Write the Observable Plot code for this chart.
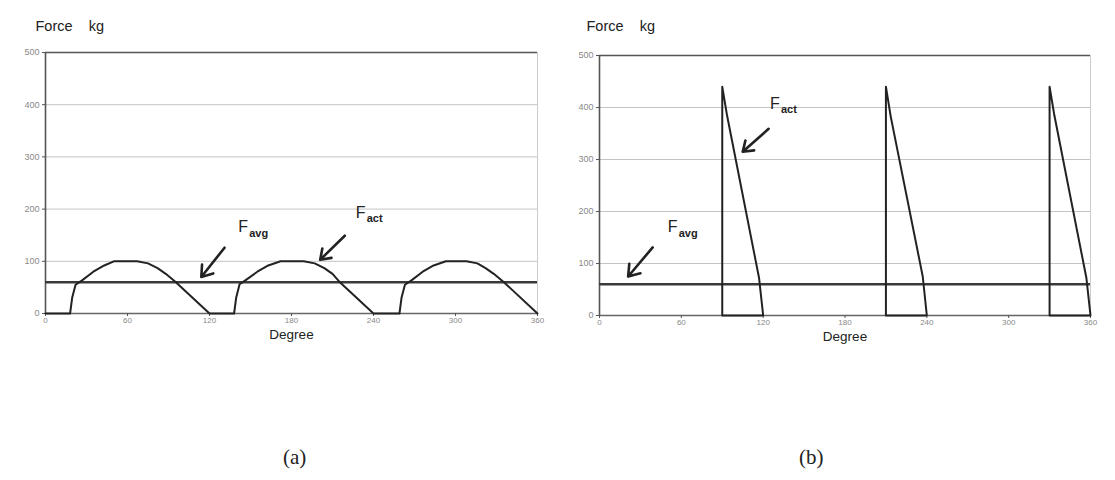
<!DOCTYPE html>
<html>
<head>
<meta charset="utf-8">
<script src="https://cdn.jsdelivr.net/npm/d3@7"></script>
<script src="https://cdn.jsdelivr.net/npm/@observablehq/plot@0.6"></script>
<style>
  html, body { margin: 0; padding: 0; background: #fff; }
  #wrap { position: relative; width: 1115px; height: 480px; overflow: hidden; }
  #pa { position: absolute; left: 0; top: 0; }
  #pb { position: absolute; left: 557px; top: 0; }
  .cap { position: absolute; top: 445px; font-family: "Liberation Serif", serif; font-size: 21px; color: #222; }
</style>
</head>
<body>
<div id="wrap">
  <div id="pa"></div>
  <div id="pb"></div>
  <div class="cap" style="left:283px">(a)</div>
  <div class="cap" style="left:799px">(b)</div>
</div>
<script>
// ---- data ----
const xTicks = [0, 60, 120, 180, 240, 300, 360];
const yTicks = [0, 100, 200, 300, 400, 500];
const favgA = 60;
const favgB = 60;

// panel (a): actual force (kg) vs degree
const degA = [0, 18, 19.5, 22, 27, 35, 43, 50, 67, 75, 82, 88, 95, 120,
              138, 139.5, 142, 147, 155, 163, 172, 189, 197, 204, 210, 215, 240,
              259, 260.5, 263, 268, 276, 284, 293, 308, 316, 322, 328, 335, 360];
const forceA = [0, 0, 30, 55, 64, 80, 92, 100, 100, 96, 87, 76, 61, 0,
                0, 30, 56, 65, 80, 92, 100, 100, 96, 87, 76, 61, 0,
                0, 30, 55, 64, 80, 92, 100, 100, 96, 87, 76, 61, 0];

// panel (b): actual force (kg) vs degree, three pulses
const cycleB = [1, 1, 1, 1, 1, 1, 2, 2, 2, 2, 2, 2, 3, 3, 3, 3, 3, 3];
const degB = [120, 90, 90, 93.5, 117, 120,
              240, 210, 210, 213.5, 237, 240,
              360, 330, 330, 333.5, 357, 360];
const forceB = [0, 0, 440, 385, 72, 0,
                0, 0, 440, 383, 75, 0,
                0, 0, 440, 385, 72, 0];

// annotations (data coordinates)
const arrowsA = [
  {x1: 131, y1: 126, x2: 114, y2: 70},
  {x1: 219, y1: 149, x2: 201, y2: 103}
];
const labelsA = [
  {x: 141, y: 165, main: "F", sub: "avg"},
  {x: 227, y: 193, main: "F", sub: "act"}
];
const arrowsB = [
  {x1: 39, y1: 131, x2: 21, y2: 75},
  {x1: 124, y1: 359, x2: 105, y2: 315}
];
const labelsB = [
  {x: 50, y: 170, main: "F", sub: "avg"},
  {x: 125, y: 407, main: "F", sub: "act"}
];

const dataA = degA.map((d, i) => ({deg: d, f: forceA[i]}));
const dataB = degB.map((d, i) => ({deg: d, f: forceB[i], c: cycleB[i]}));

function panel(opts) {
  const {data, z, favg, arrows, labels, marginLeft, marginRight, marginTop, marginBottom, width, titleDx, titleDy} = opts;
  return Plot.plot({
    width, height: 345,
    marginLeft, marginRight, marginTop, marginBottom,
    style: {fontFamily: "'Liberation Sans', Arial, sans-serif", background: "#fff"},
    x: {domain: [0, 360]},
    y: {domain: [0, 500]},
    marks: [
      Plot.ruleY([100, 200, 300, 400], {stroke: "#c4c4c4", strokeWidth: 1}),
      Plot.ruleX([360], {stroke: "#cccccc", strokeWidth: 1}),
      Plot.ruleY([500], {stroke: "#555", strokeWidth: 1.6}),
      Plot.ruleY([0], {stroke: "#666", strokeWidth: 1.6}),
      Plot.ruleX([0], {stroke: "#555", strokeWidth: 1.6}),
      Plot.axisY({ticks: yTicks, tickSize: 3, tickPadding: 3, fontSize: 9, color: "#888", stroke: "#555", label: null}),
      Plot.axisX({ticks: xTicks, tickSize: 3, tickPadding: 1, fontSize: 8, color: "#888", stroke: "#555", label: null}),
      Plot.ruleY([favg], {stroke: "#3a3a3a", strokeWidth: 2.6}),
      Plot.line(data, {x: "deg", y: "f", z, stroke: "#222", strokeWidth: 2, curve: "linear"}),
      Plot.arrow(arrows, {x1: "x1", y1: "y1", x2: "x2", y2: "y2", stroke: "#222", strokeWidth: 2.6, headLength: 9, headAngle: 70}),
      Plot.text(labels, {x: "x", y: "y", text: "main", fontSize: 16, fill: "#222", textAnchor: "start"}),
      Plot.text(labels, {x: "x", y: "y", text: "sub", fontSize: 11, fontWeight: "bold", fill: "#222", textAnchor: "start", dx: 11, dy: 6}),
      Plot.text(["Force    kg"], {frameAnchor: "top-left", dx: titleDx, dy: titleDy, fontSize: 14.5, fill: "#222", textAnchor: "start"}),
      Plot.text(["Degree"], {frameAnchor: "bottom", dy: 25, fontSize: 13.5, fill: "#222"})
    ]
  });
}

document.getElementById("pa").append(panel({
  data: dataA, z: null, favg: favgA, arrows: arrowsA, labels: labelsA,
  width: 557, marginLeft: 45, marginRight: 20, marginTop: 52, marginBottom: 32,
  titleDx: -10, titleDy: -32
}));
document.getElementById("pb").append(panel({
  data: dataB, z: "c", favg: favgB, arrows: arrowsB, labels: labelsB,
  width: 558, marginLeft: 42, marginRight: 25, marginTop: 55, marginBottom: 30,
  titleDx: -13, titleDy: -35
}));
</script>
</body>
</html>
